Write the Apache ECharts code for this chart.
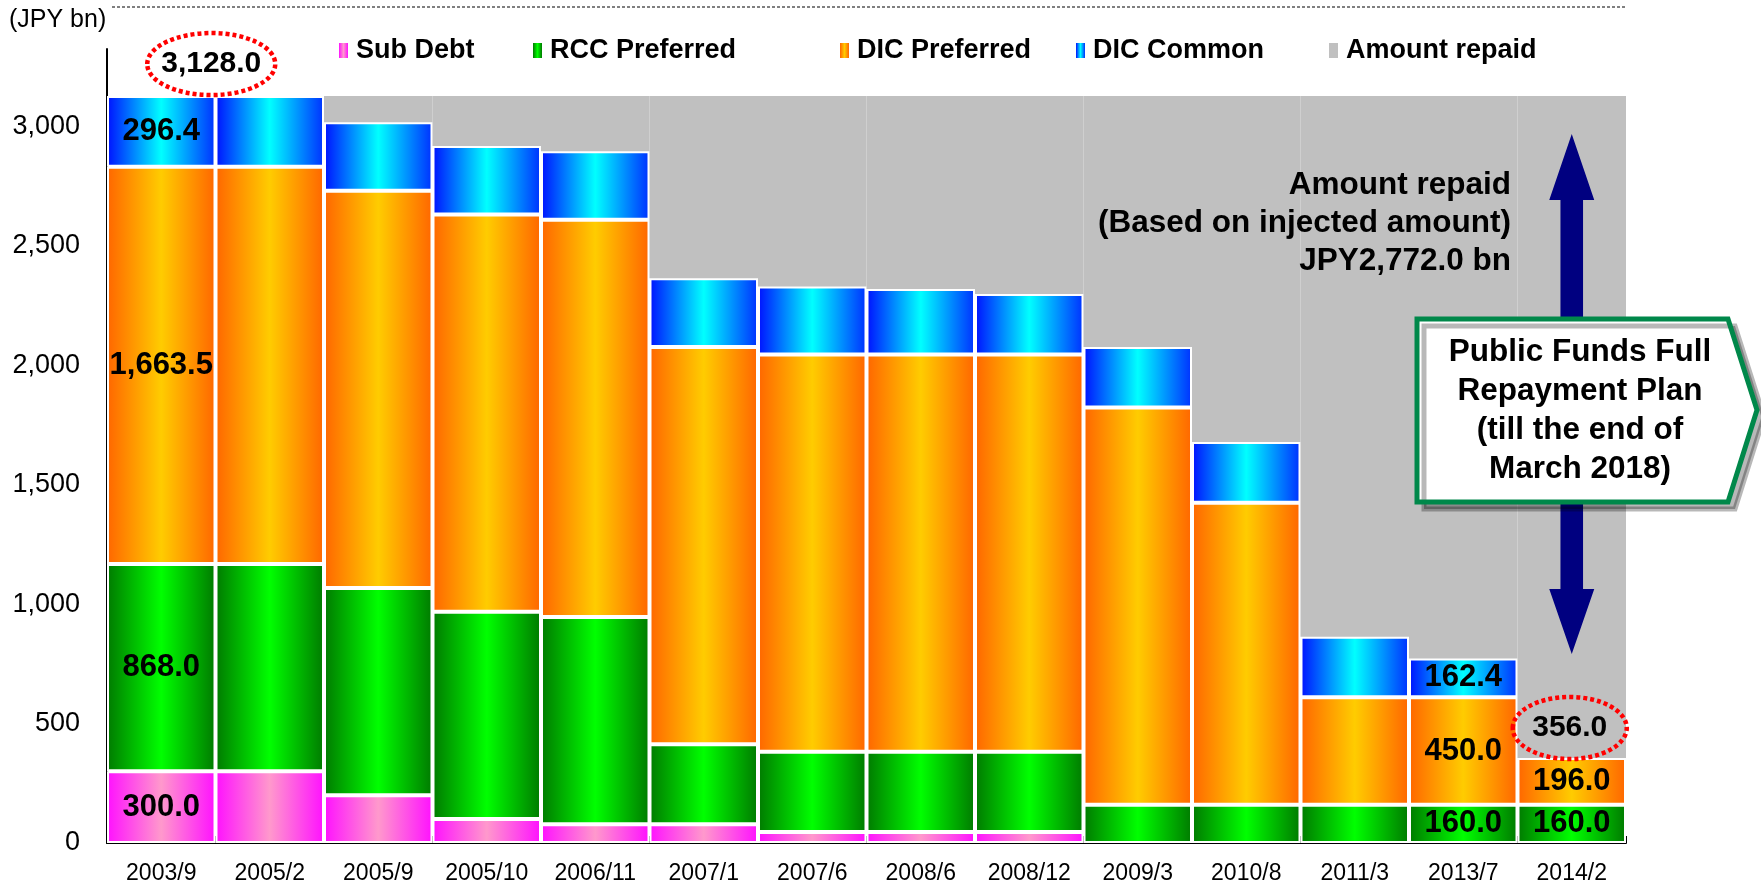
<!DOCTYPE html>
<html>
<head>
<meta charset="utf-8">
<script src="https://cdn.jsdelivr.net/npm/echarts@6/dist/echarts.min.js"></script>
<style>
  html, body { margin: 0; padding: 0; background: #ffffff; }
  #chart { width: 1761px; height: 886px; }
</style>
</head>
<body>
<div id="chart"></div>
<script>
// Public funds outstanding by instrument (JPY bn) at each repayment date
const categories   = ['2003/9', '2005/2', '2005/9', '2005/10', '2006/11', '2007/1', '2007/6',
                      '2008/6', '2008/12', '2009/3', '2010/8', '2011/3', '2013/7', '2014/2'];
const subDebt      = [300.0, 300.0, 200.0, 100.0, 78.0, 78.0, 46.0, 46.0, 46.0, 0, 0, 0, 0, 0];
const rccPreferred = [868.0, 868.0, 868.0, 868.0, 868.0, 336.0, 336.0, 336.0, 336.0, 160.0, 160.0, 160.0, 160.0, 160.0];
const dicPreferred = [1663.5, 1663.5, 1663.5, 1663.5, 1663.5, 1663.5, 1663.5, 1663.5, 1663.5, 1663.5, 1265.0, 450.0, 450.0, 196.0];
const dicCommon    = [296.4, 296.4, 287.0, 287.0, 287.0, 287.0, 284.5, 274.5, 254.0, 254.0, 254.0, 254.0, 162.4, 0];
const amountRepaid = [0.1, 0.1, 109.5, 209.5, 231.5, 763.5, 798.0, 808.0, 828.5, 1050.5, 1449.0, 2264.0, 2355.6, 2772.0];
const totalInjected = 3128.0;
const yTickValues  = [0, 500, 1000, 1500, 2000, 2500, 3000];

// Which bars carry a value label, per series
const labelledSub    = [0];
const labelledRcc    = [0, 12, 13];
const labelledPref   = [0, 12, 13];
const labelledCommon = [0, 12];

const FONT = "'Liberation Sans', Arial, sans-serif";
const fmt1 = v => Number(v).toLocaleString('en-US', { minimumFractionDigits: 1, maximumFractionDigits: 1 });

function hGrad(edge, mid, edgeRight) {
  return new echarts.graphic.LinearGradient(0, 0, 1, 0, [
    { offset: 0, color: edge },
    { offset: 0.5, color: mid },
    { offset: 1, color: edgeRight || edge }
  ]);
}

const valueLabel = {
  show: true, position: 'inside', color: '#000', fontFamily: FONT,
  fontWeight: 'bold', fontSize: 31, formatter: p => fmt1(p.value)
};

function toData(values, labelled) {
  return values.map((v, i) => {
    if (!v) return '-';
    if (labelled && labelled.indexOf(i) >= 0) return { value: v, label: valueLabel };
    return v;
  });
}

function segment(name, values, labelled, color) {
  return {
    name, type: 'bar', stack: 'total', barCategoryGap: '0%',
    data: toData(values, labelled),
    itemStyle: { color, borderColor: '#ffffff', borderWidth: 2 },
    emphasis: { disabled: true }, silent: true
  };
}

const series = [
  segment('Sub Debt', subDebt, labelledSub, hGrad('#FF10FF', '#FF99CC')),
  segment('RCC Preferred', rccPreferred, labelledRcc, hGrad('#007A00', '#00FF00')),
  segment('DIC Preferred', dicPreferred, labelledPref, hGrad('#FF6600', '#FFCC00')),
  segment('DIC Common', dicCommon, labelledCommon, hGrad('#0010FF', '#00FFFF', '#0030FF')),
  {
    name: 'Amount repaid', type: 'bar', stack: 'total', barCategoryGap: '0%',
    data: amountRepaid,
    itemStyle: { color: '#C0C0C0', borderWidth: 0 },
    emphasis: { disabled: true }, silent: true
  }
];

const legendLefts = [339, 533, 840, 1076, 1329];
const legends = series.map((s, i) => ({
  data: [s.name], left: legendLefts[i], top: 37, padding: 0,
  icon: 'rect', itemWidth: 9, itemHeight: 15, selectedMode: false,
  itemStyle: { borderWidth: 0 },
  textStyle: { fontFamily: FONT, fontWeight: 'bold', fontSize: 27, color: '#000', padding: [0, 0, 0, 3] }
}));

const chart = echarts.init(document.getElementById('chart'), null, { renderer: 'canvas' });

chart.setOption({
  animation: false,
  backgroundColor: '#ffffff',
  grid: { left: 107, right: 135, top: 49, bottom: 43, containLabel: false, outerBoundsMode: 'none' },
  legend: legends,
  xAxis: {
    type: 'category', data: categories,
    axisLine: { show: true, lineStyle: { color: '#000', width: 2 } },
    axisTick: { show: true, inside: true, length: 7, alignWithLabel: false, lineStyle: { color: '#000', width: 2 } },
    axisLabel: { interval: 0, margin: 19, color: '#000', fontFamily: FONT, fontSize: 23 }
  },
  yAxis: {
    type: 'value', min: 0, max: 3325, interval: 500,
    axisLine: { show: true, lineStyle: { color: '#000', width: 2 } },
    axisTick: { show: true, inside: true, length: 7, lineStyle: { color: '#000', width: 2 }, customValues: yTickValues },
    axisLabel: { customValues: yTickValues, margin: 27, color: '#000', fontFamily: FONT, fontSize: 27,
                 formatter: v => Number(v).toLocaleString('en-US') },
    splitLine: { show: false }
  },
  series
});

// Annotations positioned against the axes
const toPx = (cat, val) => chart.convertToPixel({ xAxisIndex: 0, yAxisIndex: 0 }, [cat, val]);
const firstTop = toPx(categories[0], totalInjected);
const lastIdx = categories.length - 1;
const lastTotal = rccPreferred[lastIdx] + dicPreferred[lastIdx] + subDebt[lastIdx] + dicCommon[lastIdx];
const lastTop = toPx(categories[lastIdx], lastTotal);
const arrowX = lastTop[0];

const dottedRed = { stroke: '#FF0000', lineWidth: 4.5, lineDash: [4, 3], fill: null };
const boldText = (size) => ({ fontFamily: FONT, fontWeight: 'bold', fontSize: size, fill: '#000' });

const arrowTipTop = 134, arrowHeadTop = 200, arrowHeadBottom = 589, arrowTipBottom = 654;
const headHalf = 22.5, shaftHalf = 11.3;

chart.setOption({
  graphic: [
    // unit caption and dashed rule
    { type: 'text', left: 9, top: 8, style: { text: '(JPY bn)', fontFamily: FONT, fontSize: 25, fill: '#000' } },
    { type: 'line', shape: { x1: 112, y1: 7, x2: 1626, y2: 7 }, style: { stroke: '#000', lineWidth: 1, lineDash: [3, 2] } },
    // total injected callout
    { type: 'ellipse', shape: { cx: firstTop[0] + 50, cy: firstTop[1] - 32, rx: 64, ry: 31 }, style: dottedRed, z: 10 },
    { type: 'text', x: firstTop[0] + 50, y: firstTop[1] - 32, z: 11,
      style: Object.assign({ text: fmt1(totalInjected), align: 'center', verticalAlign: 'middle' }, boldText(30)) },
    // double-headed arrow over the repaid area
    { type: 'polygon', z: 5, shape: { points: [
        [arrowX, arrowTipTop], [arrowX + headHalf, arrowHeadTop], [arrowX + shaftHalf, arrowHeadTop],
        [arrowX + shaftHalf, arrowHeadBottom], [arrowX + headHalf, arrowHeadBottom], [arrowX, arrowTipBottom],
        [arrowX - headHalf, arrowHeadBottom], [arrowX - shaftHalf, arrowHeadBottom], [arrowX - shaftHalf, arrowHeadTop],
        [arrowX - headHalf, arrowHeadTop]] },
      style: { fill: '#000080' } },
    { type: 'text', x: 1511, y: 223, z: 6,
      style: Object.assign({ text: 'Amount repaid\n(Based on injected amount)\nJPY2,772.0 bn',
        align: 'right', verticalAlign: 'middle', lineHeight: 38 }, boldText(31.5)) },
    // repayment plan box
    { type: 'polygon', z: 7, shape: { points: [[1417, 319], [1728, 319], [1757, 410], [1728, 502], [1417, 502]] },
      style: { fill: '#ffffff', stroke: '#00884A', lineWidth: 5,
               shadowColor: 'rgba(0,0,0,0.28)', shadowOffsetX: 7, shadowOffsetY: 7, shadowBlur: 0 } },
    { type: 'text', x: 1580, y: 411, z: 8,
      style: Object.assign({ text: 'Public Funds Full\nRepayment Plan\n(till the end of\nMarch 2018)',
        align: 'center', verticalAlign: 'middle', lineHeight: 39 }, boldText(31.5)) },
    // latest outstanding total
    { type: 'ellipse', shape: { cx: lastTop[0] - 2, cy: lastTop[1] - 30, rx: 57, ry: 31 }, style: dottedRed, z: 10 },
    { type: 'text', x: lastTop[0] - 2, y: lastTop[1] - 30, z: 11,
      style: Object.assign({ text: fmt1(lastTotal), align: 'center', verticalAlign: 'middle' }, boldText(30)) }
  ]
});
</script>
</body>
</html>
